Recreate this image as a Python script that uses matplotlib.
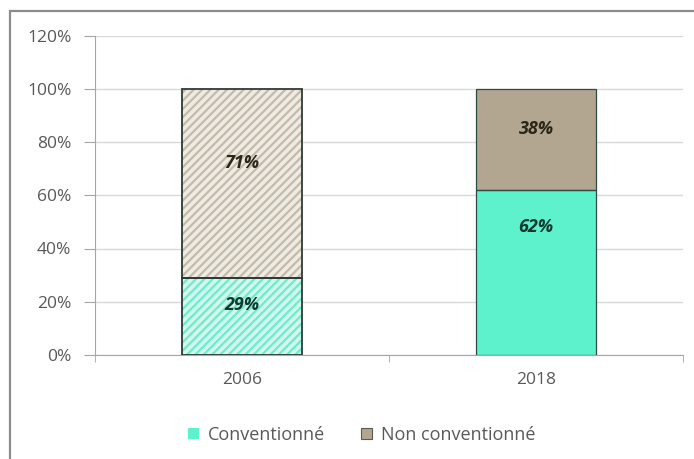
import matplotlib
matplotlib.use("Agg")
import matplotlib.pyplot as plt
from matplotlib.patches import Rectangle
import numpy as np

years = ["2006", "2018"]
conventionne = [29, 62]
non_conventionne = [71, 38]
y_ticks = [0, 20, 40, 60, 80, 100, 120]

# hauteur des étiquettes (en % de l'axe)
pos_conv = [18.8, 48]
pos_non = [72, 85]

teal = "#5ef2cc"
taupe = "#b2a690"
plt.rcParams["font.family"] = ["Open Sans", "DejaVu Sans"]
plt.rcParams["hatch.linewidth"] = 1.6

fig = plt.figure(figsize=(6.94, 4.59), dpi=100)
fig.patches.append(Rectangle((9.5 / 694, -0.1), 1.2, (459 - 10.5) / 459 + 0.1,
                             transform=fig.transFigure, fill=False,
                             edgecolor="#8c8c8c", linewidth=1.6))
ax = fig.add_axes([95 / 694, 104 / 459, 588 / 694, 319.5 / 459])

x = np.arange(len(years))
w = 0.41

# 2006 : motif hachuré, 2018 : aplat
for i in range(len(years)):
    hatched = i == 0
    c = conventionne[i]
    n = non_conventionne[i]
    if hatched:
        ax.bar(x[i], c, w, color="#d2f9ee", edgecolor="#6cecc9", hatch="////", linewidth=0, zorder=2)
        ax.bar(x[i], n, w, bottom=c, color="#eeebe5", edgecolor="#c4baa8", hatch="////", linewidth=0, zorder=2)
        ec, lw = "#2f3a36", 1.3
    else:
        ax.bar(x[i], c, w, color=teal, linewidth=0, zorder=2)
        ax.bar(x[i], n, w, bottom=c, color=taupe, linewidth=0, zorder=2)
        ec, lw = "#2f4a42", 0.9
    ax.bar(x[i], c, w, fill=False, edgecolor=ec, linewidth=lw, zorder=3)
    ax.bar(x[i], n, w, bottom=c, fill=False, edgecolor=ec, linewidth=lw, zorder=3)
    ax.text(x[i], pos_conv[i], "%d%%" % c, ha="center", va="center", fontsize=13,
            fontweight="bold", fontstyle="italic", color="#0e3a2e", zorder=4)
    ax.text(x[i], pos_non[i], "%d%%" % n, ha="center", va="center", fontsize=13,
            fontweight="bold", fontstyle="italic", color="#2b2618", zorder=4)

ax.set_ylim(0, 120)
ax.set_xlim(-0.5, 1.5)
ax.set_yticks(y_ticks)
ax.set_yticklabels(["%d%%" % v for v in y_ticks])
ax.set_xticks(x)
ax.set_xticklabels(years)
ax.set_xticks([-0.5, 0.5, 1.5], minor=True)
ax.tick_params(axis="x", which="major", length=0, pad=12, labelsize=12.5, labelcolor="#595959")
ax.tick_params(axis="x", which="minor", length=5, color="#a6a6a6")
ax.tick_params(axis="y", length=8, color="#a6a6a6", pad=9, labelsize=12.5, labelcolor="#595959")
ax.yaxis.grid(True, color="#d9d9d9", linewidth=1, zorder=0)
ax.set_axisbelow(True)
for s in ["top", "right"]:
    ax.spines[s].set_visible(False)
ax.spines["left"].set_color("#a6a6a6")
ax.spines["bottom"].set_color("#a6a6a6")

h1 = Rectangle((0, 0), 1, 1, facecolor=teal, edgecolor="none")
h2 = Rectangle((0, 0), 1, 1, facecolor=taupe, edgecolor="#595959", linewidth=0.8)
fig.legend([h1, h2], ["Conventionné", "Non conventionné"], loc="center",
           bbox_to_anchor=(362 / 694, 1 - 435 / 459), ncol=2, frameon=False,
           fontsize=13, handlelength=0.6, handleheight=0.6, handletextpad=0.5,
           columnspacing=2.0, labelcolor="#595959")

fig.savefig("out.png", dpi=100)
